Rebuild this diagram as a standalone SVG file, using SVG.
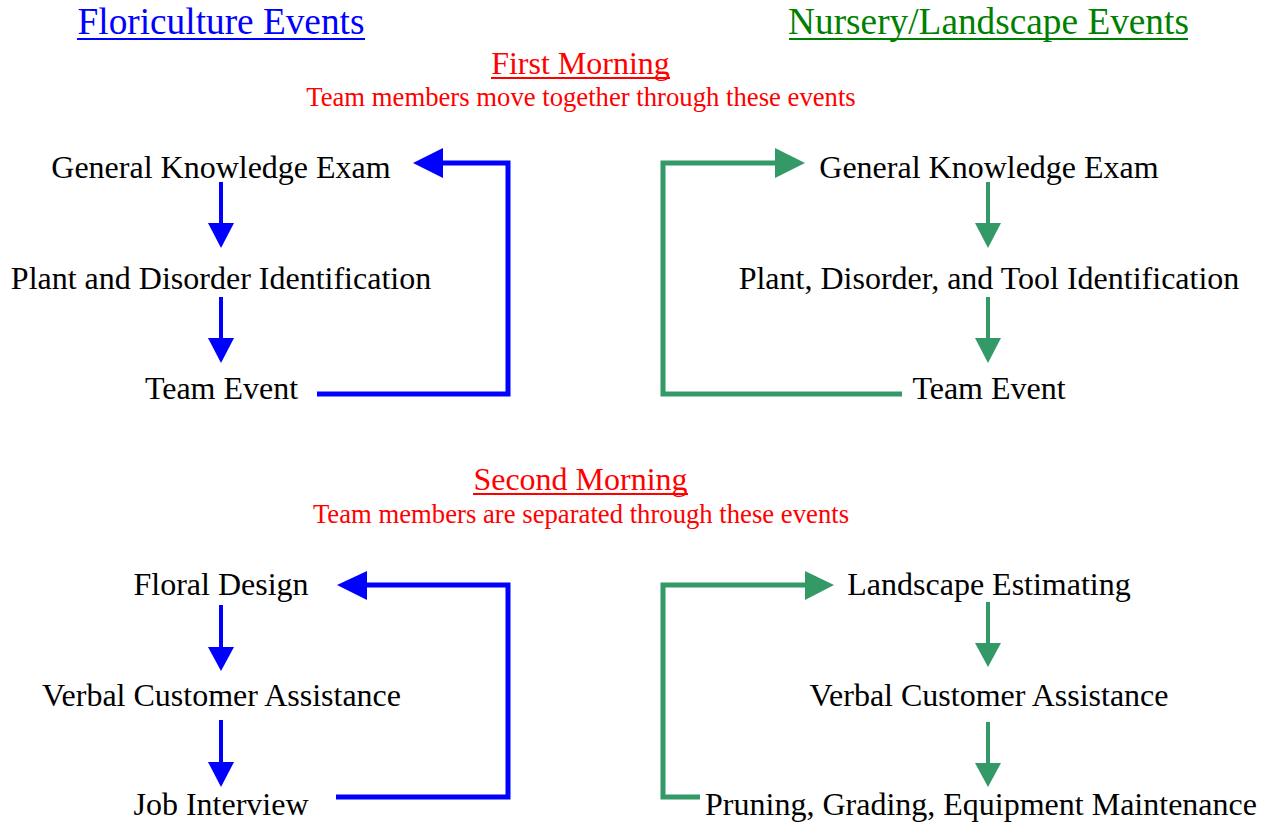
<svg xmlns="http://www.w3.org/2000/svg" width="1272" height="824" viewBox="0 0 1272 824">
<style>
text{font-family:"Liberation Serif","Times New Roman",serif;text-anchor:middle}
.title{font-size:37.3px}
.sec{font-size:32px;fill:#FF0000}
.sub{font-size:26.7px;fill:#FF0000}
.node{font-size:32px;fill:#000}
.blue{stroke:#0000FF;fill:none}
.green{stroke:#339966;fill:none}
.bh{fill:#0000FF}
.gh{fill:#339966}
.loop{stroke-width:5;stroke-linejoin:miter}
.shaft{stroke-width:4}
</style>
<rect width="1272" height="824" fill="#fff"/>
<g id="headers">
<text class="title" x="221" y="34" fill="#0000FF">Floriculture Events</text>
<line x1="77" y1="39" x2="365" y2="39" stroke="#0000FF" stroke-width="2"/>
<text class="title" x="988.5" y="34" fill="#008000">Nursery/Landscape Events</text>
<line x1="789" y1="39" x2="1188" y2="39" stroke="#008000" stroke-width="2"/>
<text class="sec" x="580.5" y="74">First Morning</text>
<line x1="491" y1="78" x2="670" y2="78" stroke="#FF0000" stroke-width="2"/>
<text class="sub" x="581" y="106">Team members move together through these events</text>
<text class="sec" x="580.5" y="490">Second Morning</text>
<line x1="473" y1="494" x2="688" y2="494" stroke="#FF0000" stroke-width="2"/>
<text class="sub" x="581" y="523">Team members are separated through these events</text>
</g>
<g id="f1"><text class="node" x="221" y="178">General Knowledge Exam</text></g>
<g id="f2"><text class="node" x="221" y="289">Plant and Disorder Identification</text></g>
<g id="f3"><text class="node" x="221.5" y="399">Team Event</text></g>
<g id="n1"><text class="node" x="989" y="178">General Knowledge Exam</text></g>
<g id="n2"><text class="node" x="989" y="289">Plant, Disorder, and Tool Identification</text></g>
<g id="n3"><text class="node" x="989" y="399">Team Event</text></g>
<g id="f4"><text class="node" x="221" y="595">Floral Design</text></g>
<g id="f5"><text class="node" x="221.5" y="706">Verbal Customer Assistance</text></g>
<g id="f6"><text class="node" x="221" y="815">Job Interview</text></g>
<g id="n4"><text class="node" x="989" y="595">Landscape Estimating</text></g>
<g id="n5"><text class="node" x="989" y="706">Verbal Customer Assistance</text></g>
<g id="n6"><text class="node" x="981" y="815">Pruning, Grading, Equipment Maintenance</text></g>
<g id="connectors">
<line class="blue shaft" x1="221" y1="182" x2="221" y2="224"/>
<polygon class="bh" points="208,223 234,223 221,248"/>
<line class="blue shaft" x1="221" y1="297" x2="221" y2="339"/>
<polygon class="bh" points="208,338 234,338 221,363"/>
<path class="blue loop" d="M317,394 H508 V163 H442"/>
<polygon class="bh" points="443,148 443,178 413,163"/>
<line class="green shaft" x1="988" y1="182" x2="988" y2="224"/>
<polygon class="gh" points="975,223 1001,223 988,248"/>
<line class="green shaft" x1="988" y1="297" x2="988" y2="339"/>
<polygon class="gh" points="975,338 1001,338 988,363"/>
<path class="green loop" d="M902,394 H663 V163 H776"/>
<polygon class="gh" points="775,148 775,178 805,163"/>
<line class="blue shaft" x1="221" y1="605" x2="221" y2="648"/>
<polygon class="bh" points="208,647 234,647 221,671"/>
<line class="blue shaft" x1="221" y1="720" x2="221" y2="763"/>
<polygon class="bh" points="208,762 234,762 221,787"/>
<path class="blue loop" d="M336,797 H508 V585 H366"/>
<polygon class="bh" points="367,571 367,600 337,585"/>
<line class="green shaft" x1="988" y1="602" x2="988" y2="644"/>
<polygon class="gh" points="975,643 1001,643 988,667"/>
<line class="green shaft" x1="988" y1="722" x2="988" y2="764"/>
<polygon class="gh" points="975,763 1001,763 988,787"/>
<path class="green loop" d="M700,797 H663 V585 H806"/>
<polygon class="gh" points="805,571 805,600 834,585"/>
</g>
</svg>
